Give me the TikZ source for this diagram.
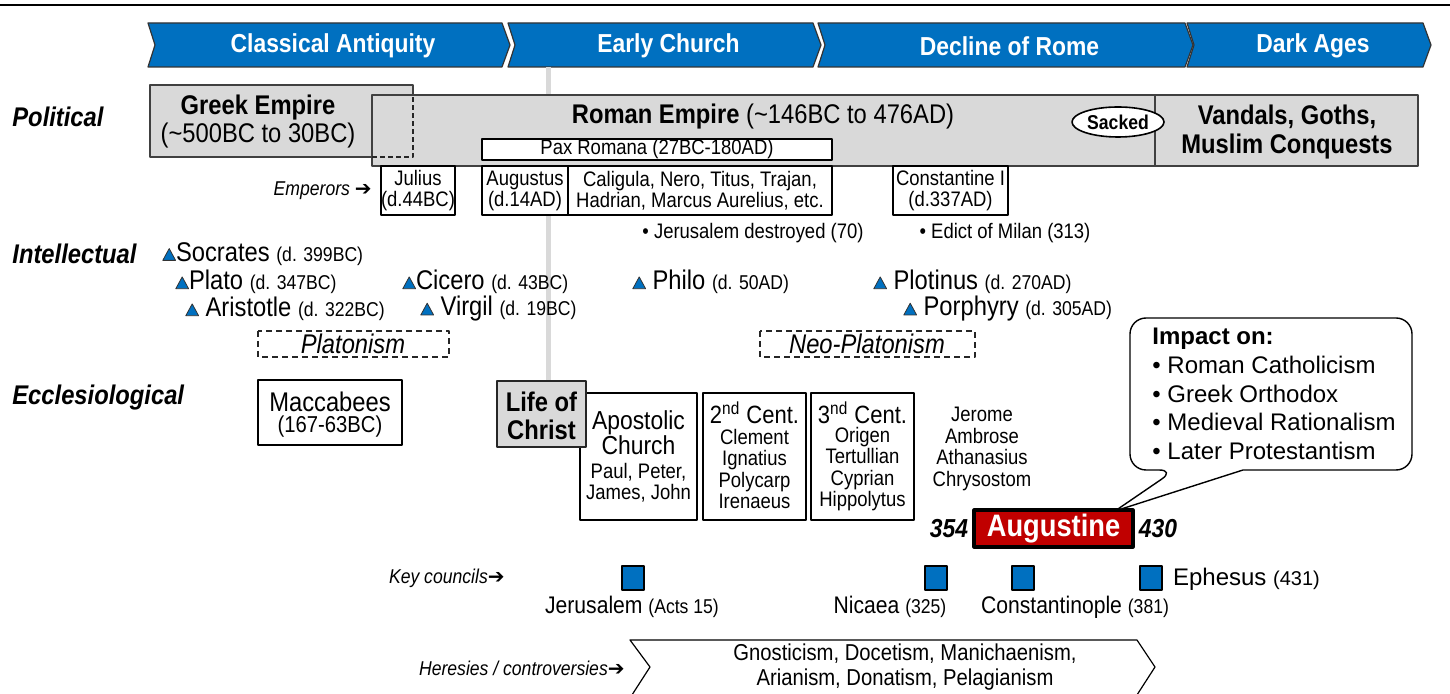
\documentclass[tikz,border=0pt]{standalone}
\usepackage{fontspec}
\setmainfont{Liberation Sans}[FakeStretch=0.88]
\newfontfamily\wide{Liberation Sans}
\newfontfamily\dv{DejaVu Sans}
\usetikzlibrary{shapes.geometric}
\definecolor{cblue}{RGB}{0,112,192}
\definecolor{cgray}{RGB}{217,217,217}
\definecolor{cred}{RGB}{192,0,0}
\newcommand{\tri}{\tikz[baseline=0pt]\filldraw[fill=cblue,draw=black!80,line width=.4pt] (0pt,.5pt)--(6.4pt,.5pt)--(3.2pt,6.4pt)--cycle;}
\newcommand{\dt}[1]{{\fontsize{10}{12}\selectfont #1}}
\newcommand{\arr}{{\dv ➔}}
\newcommand{\bigfont}{\fontsize{13.5}{14.5}\selectfont}
\begin{document}
\begin{tikzpicture}[x=.5pt, y=-.5pt, line join=round, font=\fontsize{10.5}{12}\selectfont,
  lbl/.style={anchor=west, inner sep=0pt, font=\bfseries\itshape\fontsize{13.5}{15}\selectfont},
  chev/.style={fill=cblue, draw=black!80, line width=.6pt},
  era/.style={text=white, font=\bfseries\fontsize{13}{14}\selectfont},
  gbox/.style={fill=cgray, draw=black!75, line width=.7pt},
  wbox/.style={fill=white, draw=black, line width=.6pt},
  dbox/.style={draw=black!85, dash pattern=on 3pt off 2pt, line width=.6pt},
  big/.style={font=\bigfont},
  emp/.style={align=center, font=\fontsize{10.5}{10.5}\selectfont},
  phil/.style={anchor=west, inner sep=0pt, font=\fontsize{13.5}{15}\selectfont},
  small/.style={align=center, font=\fontsize{10.5}{10.7}\selectfont},
  note/.style={anchor=east, inner sep=1pt, font=\itshape\fontsize{10}{12}\selectfont},
  council/.style={fill=cblue, draw=black, line width=.6pt, minimum width=11pt, minimum height=12pt, inner sep=0pt},
  coun/.style={font=\fontsize{12}{14}\selectfont}]
\useasboundingbox (0,0) rectangle (1450,694);
\draw[line width=1.1pt] (0,5)--(1450,5);
% eras
\foreach \a/\b/\t [count=\i] in {148/502/Classical Antiquity, 508/813/Early Church, 818/1185/Decline of Rome, 1187/1423/Dark Ages}{
  \filldraw[chev] (\a,23)--(\b,23)--(\b+8,45)--(\b,67)--(\a,67)--(\a+7,45)--cycle;
  \node[era] (era\i) at ({(\a+\b)/2+8},46) {\t};}
\draw[cgray, line width=2.5pt] (548,67)--(548,382);
\node[lbl] (pol) at (12,117) {Political};
\node[lbl] (int) at (12,254) {Intellectual};
\node[lbl] (ecc) at (12,398) {Ecclesiological};
% political
\filldraw[gbox] (150,85) rectangle (413,157);
\filldraw[gbox] (372,95) rectangle (1418,166);
\draw[gbox] (1155,95)--(1155,166);
\draw[dbox, dash pattern=on 2.5pt off 1.5pt] (372,157)--(413,157)--(413,95);
\node[align=center, font=\fontsize{13.5}{14}\selectfont] (greek) at (258,122) {\textbf{Greek Empire}\\(\textasciitilde500BC to 30BC)};
\node[big] (roman) at (763,117) {\textbf{Roman Empire} (\textasciitilde146BC to 476AD)};
\node[ellipse, draw, fill=white, line width=.8pt, minimum width=46pt, minimum height=15pt, inner sep=0pt, font=\bfseries\fontsize{10}{12}\selectfont] (sacked) at (1118,122) {Sacked};
\node[align=center, font=\bfseries\fontsize{13.5}{14.5}\selectfont] (vandals) at (1287,132) {Vandals, Goths,\\Muslim Conquests};
\filldraw[wbox] (482,139) rectangle (832,160);
\node (pax) at (657,149.5) {Pax Romana (27BC-180AD)};
\foreach \a/\b/\t [count=\i] in {381/455/{Julius\\(d.44BC)}, 482/568/{Augustus\\(d.14AD)}, 568/832/{Caligula, Nero, Titus, Trajan,\\Hadrian, Marcus Aurelius, etc.}, 893/1008/{Constantine I\\(d.337AD)}}{
  \filldraw[wbox] (\a,166) rectangle (\b,215);
  \node[emp] (emp\i) at ({(\a+\b)/2},191) {\t};}
\node[note] (emplbl) at (374,191) {Emperors \arr};
\node (jer70) at (753,233) {\textbullet\ Jerusalem destroyed (70)};
\node (milan) at (1005,233) {\textbullet\ Edict of Milan (313)};
% intellectual
\foreach \x/\y/\n/\d [count=\i] in {162/254/\tri Socrates/399BC, 175/282/\tri Plato/347BC, 185/309/\tri\ Aristotle/322BC, 402/282/\tri Cicero/43BC, 420/309/\tri\ Virgil/19BC, 632/282/\tri\ Philo/50AD, 873/282/\tri\ Plotinus/270AD, 903/309/\tri\ Porphyry/305AD}
  \node[phil] (phil\i) at (\x,\y) {\n\ \dt{(d. \d)}};
\draw[dbox] (258,331) rectangle (449,357);
\node[font=\itshape\bigfont] (plat) at (353,344) {Platonism};
\draw[dbox] (760,331) rectangle (975,357);
\node[font=\itshape\bigfont] (neoplat) at (867,344) {Neo-Platonism};
% ecclesiological
\draw[wbox] (258,380) rectangle (402,445);
\node[big] (macc) at (330,402) {Maccabees};
\node[font=\fontsize{11.5}{13}\selectfont] (maccd) at (330,427) {(167-63BC)};
\foreach \a/\b [count=\i] in {580/697, 703/806, 811/914}
  \filldraw[wbox] (\a,393) rectangle (\b,520);
\filldraw[gbox, draw=black!85] (497,381) rectangle (586,447);
\node[align=center, font=\bfseries\fontsize{13.5}{14}\selectfont] (christ) at (541.5,416) {Life of\\Christ};
\node[align=center, inner sep=1pt, font=\fontsize{13}{12.5}\selectfont] (apost) at (638.5,433) {Apostolic\\Church};
\node[small, inner sep=1pt] (apostn) at (638.5,483) {Paul, Peter,\\James, John};
\node[font=\fontsize{12.5}{14}\selectfont] (cent2) at (754.5,413) {2\textsuperscript{nd} Cent.};
\node[small] (cent2n) at (754.5,469) {Clement\\Ignatius\\Polycarp\\Irenaeus};
\node[font=\fontsize{12.5}{14}\selectfont] (cent3) at (862.5,413) {3\textsuperscript{nd} Cent.};
\node[small] (cent3n) at (862.5,469) {Origen\\Tertullian\\Cyprian\\Hippolytus};
\node[small] (fathers) at (982,449) {Jerome\\Ambrose\\Athanasius\\Chrysostom};
% augustine
\filldraw[fill=cred, draw=black, line width=1.6pt] (974,510) rectangle (1133,547);
\node[text=white, font=\bfseries\fontsize{15.5}{17}\selectfont] (aug) at (1053.5,529) {Augustine};
\node[font=\bfseries\itshape\fontsize{13}{14}\selectfont] (born) at (949,529) {354};
\node[font=\bfseries\itshape\fontsize{13}{14}\selectfont] (died) at (1158,529) {430};
\filldraw[fill=white, draw=black, line width=.7pt, rounded corners=8pt] (1243,470)--(1412,470)--(1412,318)--(1130,318)--(1130,470)--(1175,470) [sharp corners]--(1115,511)--cycle;
\node[anchor=north west, align=left, inner sep=0pt, font=\wide\fontsize{12}{14.3}\selectfont] (impact) at (1152,328) {\textbf{Impact on:}\\\textbullet\ Roman Catholicism\\\textbullet\ Greek Orthodox\\\textbullet\ Medieval Rationalism\\\textbullet\ Later Protestantism};
% councils
\foreach \x [count=\i] in {633,936,1023,1151}
  \node[council] (c\i) at (\x,578) {};
\node[note] (keylbl) at (507,578) {Key councils\arr};
\node[coun] (jerus) at (632,607) {Jerusalem \dt{(Acts 15)}};
\node[coun] (nicaea) at (890,607) {Nicaea \dt{(325)}};
\node[coun] (constan) at (1075,607) {Constantinople \dt{(381)}};
\node[coun, anchor=west, font=\wide\fontsize{12}{14}\selectfont] (ephes) at (1166,579) {Ephesus {\fontsize{10}{12}\selectfont(431)}};
% heresies
\filldraw[wbox] (630,640)--(1137,640)--(1155,667)--(1135,698)--(630,698)--(650,667)--cycle;
\node[align=center, font=\fontsize{11.5}{12.5}\selectfont] (heres) at (905,667) {Gnosticism, Docetism, Manichaenism,\\Arianism, Donatism, Pelagianism};
\node[note] (hereslbl) at (627,668) {Heresies / controversies\arr};
\end{tikzpicture}
\end{document}
